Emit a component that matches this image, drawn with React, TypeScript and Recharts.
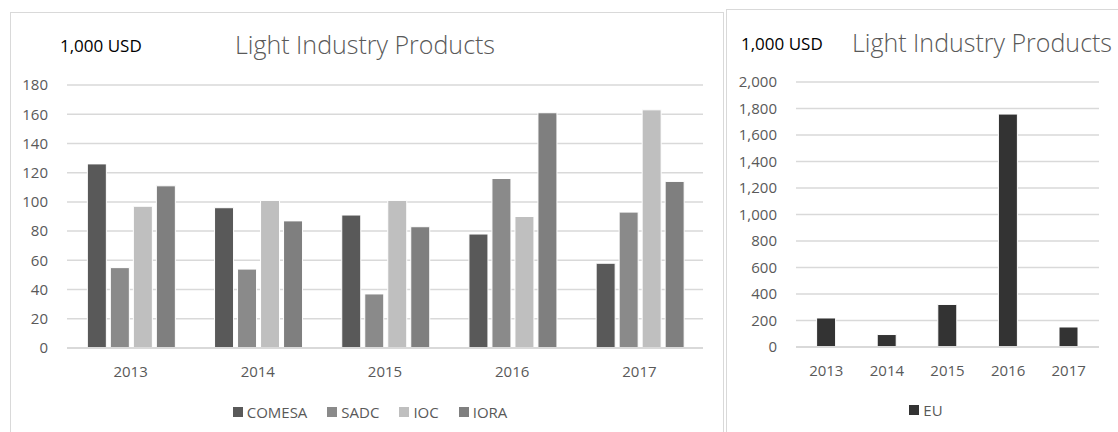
import React from "react";
import { BarChart, Bar, XAxis, YAxis, CartesianGrid, Legend } from "recharts";

const years = ["2013", "2014", "2015", "2016", "2017"];
const seriesNames = ["COMESA", "SADC", "IOC", "IORA"];
const comesa = [126, 96, 91, 78, 58];
const sadc = [55, 54, 37, 116, 93];
const ioc = [97, 101, 101, 90, 163];
const iora = [111, 87, 83, 161, 114];
const eu = [219, 94, 321, 1758, 151];

const leftTicks = [0, 20, 40, 60, 80, 100, 120, 140, 160, 180];
const rightTicks = [0, 200, 400, 600, 800, 1000, 1200, 1400, 1600, 1800, 2000];

const leftData = years.map((y, i) => ({ year: y, COMESA: comesa[i], SADC: sadc[i], IOC: ioc[i], IORA: iora[i] }));
const rightData = years.map((y, i) => ({ year: y, EU: eu[i] }));

const FONT = "'Open Sans', sans-serif";
const TEXT = "#595959";

const renderLegend = (props: any) => {
  const payload = [...(props.payload || [])].sort(
    (a: any, b: any) => seriesNames.indexOf(a.value) - seriesNames.indexOf(b.value)
  );
  return (
    <div style={{ display: "flex", justifyContent: "center", gap: 20, fontFamily: FONT, fontSize: 15, color: TEXT }}>
      {payload.map((p: any) => (
        <div key={p.value} style={{ display: "flex", alignItems: "center" }}>
          <span style={{ display: "inline-block", width: 10, height: 10, background: p.color, marginRight: 4 }} />
          <span>{p.value}</span>
        </div>
      ))}
    </div>
  );
};

export default function App() {
  const tickStyle = { fill: TEXT, fontSize: 15, fontFamily: FONT };
  return (
    <div style={{ position: "absolute", left: 0, top: 0, width: 1118, height: 432, background: "#fff", overflow: "hidden" }}>
      <div style={{ position: "absolute", left: 10, top: 12, width: 712, height: 440, border: "1px solid #d9d9d9" }} />
      <div style={{ position: "absolute", left: 726, top: 9, width: 420, height: 440, border: "1px solid #d9d9d9" }} />

      <div style={{ position: "absolute", left: 60, top: 34, fontFamily: FONT, fontSize: 17, color: "#000", whiteSpace: "nowrap" }}>1,000 USD</div>
      <div style={{ position: "absolute", left: 235, top: 27, fontFamily: FONT, fontWeight: 300, fontSize: 25, color: TEXT, whiteSpace: "nowrap" }}>Light Industry Products</div>
      <div style={{ position: "absolute", left: 741, top: 32, fontFamily: FONT, fontSize: 17, color: "#000", whiteSpace: "nowrap" }}>1,000 USD</div>
      <div style={{ position: "absolute", left: 852, top: 25, fontFamily: FONT, fontWeight: 300, fontSize: 25, color: TEXT, whiteSpace: "nowrap" }}>Light Industry Products</div>

      <div style={{ position: "absolute", left: 0, top: 0 }}>
        <BarChart width={723} height={432} data={leftData} margin={{ top: 85, right: 20, left: 0, bottom: 10 }} barCategoryGap="16%" barGap={4}>
          <CartesianGrid vertical={false} stroke="#d9d9d9" strokeWidth={1.5} />
          <XAxis dataKey="year" height={54} tickLine={false} axisLine={{ stroke: "#d9d9d9", strokeWidth: 2 }} tickSize={0} tickMargin={18} tick={tickStyle} />
          <YAxis width={67} domain={[0, 180]} ticks={leftTicks} tickLine={false} axisLine={false} tickSize={0} tickMargin={19} tick={tickStyle} />
          <Legend content={renderLegend} wrapperStyle={{ left: 40, width: 660, top: 402 }} />
          <Bar dataKey="COMESA" fill="#595959" stroke="#ffffff" strokeWidth={1} isAnimationActive={false} />
          <Bar dataKey="SADC" fill="#8a8a8a" stroke="#ffffff" strokeWidth={1} isAnimationActive={false} />
          <Bar dataKey="IOC" fill="#bfbfbf" stroke="#ffffff" strokeWidth={1} isAnimationActive={false} />
          <Bar dataKey="IORA" fill="#7f7f7f" stroke="#ffffff" strokeWidth={1} isAnimationActive={false} />
        </BarChart>
      </div>

      <div style={{ position: "absolute", left: 726, top: 0 }}>
        <BarChart width={392} height={432} data={rightData} margin={{ top: 82, right: 19, left: 0, bottom: 12 }} barCategoryGap="34%">
          <CartesianGrid vertical={false} stroke="#d9d9d9" strokeWidth={1.5} />
          <XAxis dataKey="year" height={53} tickLine={false} axisLine={{ stroke: "#d9d9d9", strokeWidth: 2 }} tickSize={0} tickMargin={18} tick={tickStyle} />
          <YAxis width={70} domain={[0, 2000]} ticks={rightTicks} tickFormatter={(v: number) => v.toLocaleString("en-US")} tickLine={false} axisLine={false} tickSize={0} tickMargin={19} tick={tickStyle} />
          <Legend content={renderLegend} wrapperStyle={{ left: 40, width: 320, top: 400 }} />
          <Bar dataKey="EU" fill="#333333" stroke="#ffffff" strokeWidth={1} isAnimationActive={false} />
        </BarChart>
      </div>
    </div>
  );
}
